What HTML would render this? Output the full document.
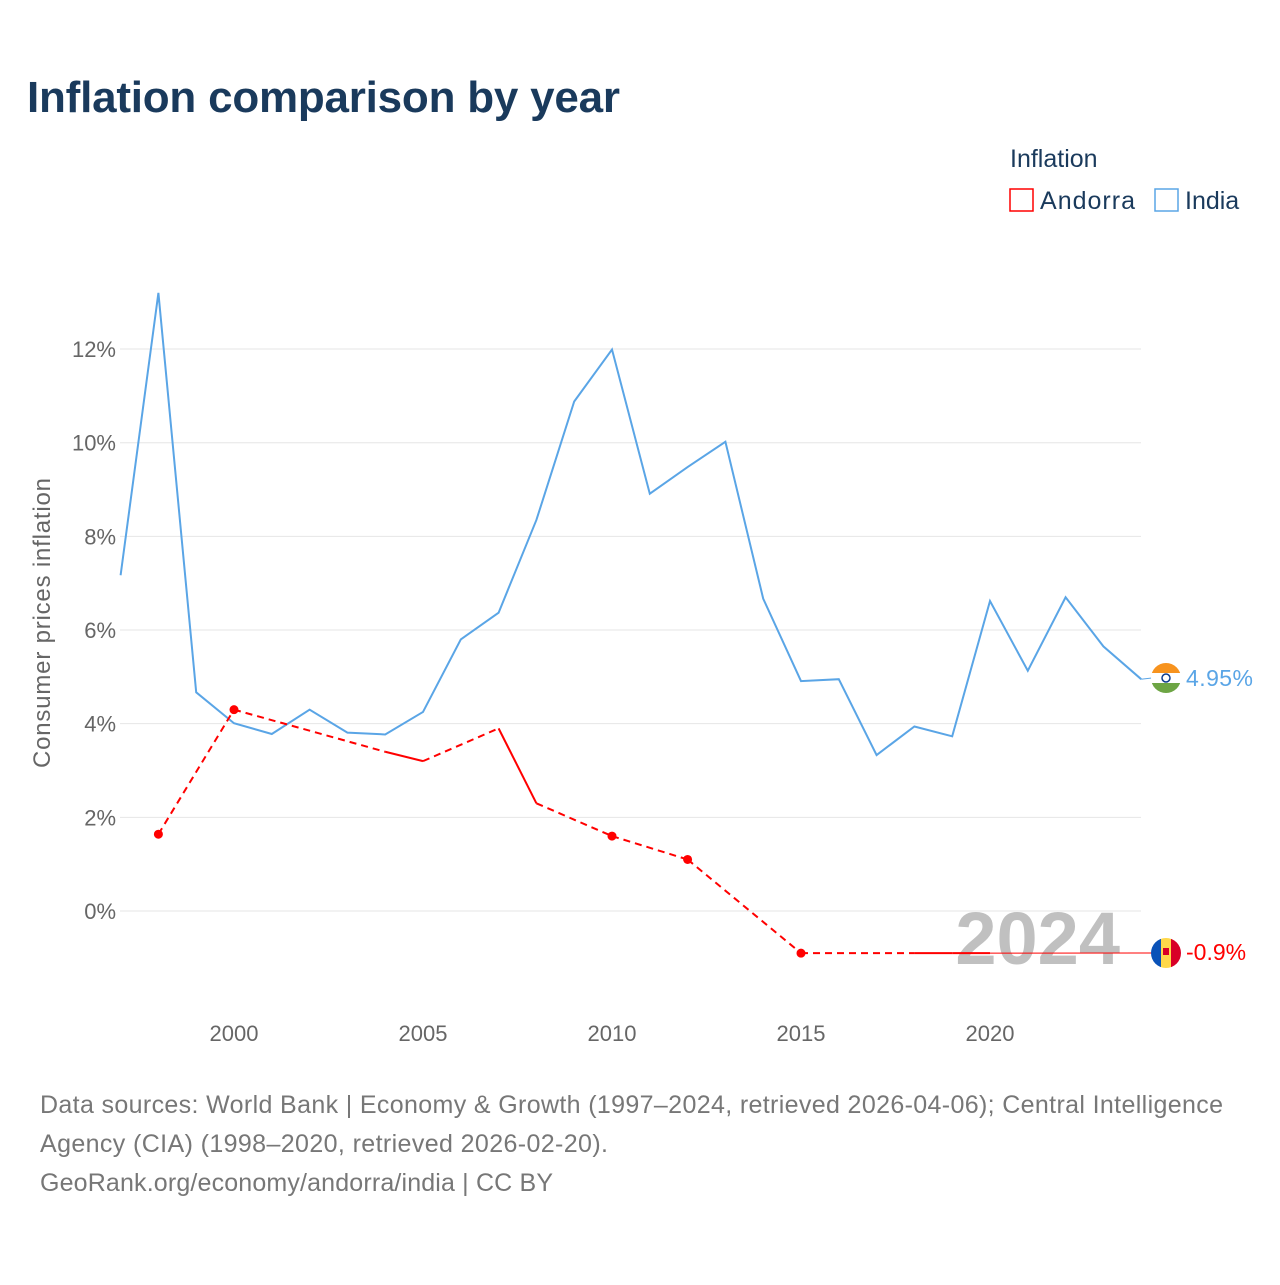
<!DOCTYPE html>
<html><head><meta charset="utf-8"><style>
body{margin:0;background:#fff;font-family:"Liberation Sans",sans-serif}
svg text{font-family:"Liberation Sans",sans-serif}
</style></head><body>
<svg id="c" width="1280" height="1280" xmlns="http://www.w3.org/2000/svg">
<text x="27" y="112" font-size="44" font-weight="bold" fill="#1a3a5c" textLength="593">Inflation comparison by year</text>
<text x="1010" y="167" font-size="25" fill="#1a3a5c">Inflation</text>
<g><rect x="1010" y="189" width="23" height="22" fill="none" stroke="#f00" stroke-width="1.5"/><text x="1040" y="209" font-size="25" fill="#1a3a5c" textLength="95">Andorra</text></g>
<g><rect x="1155" y="189" width="23" height="22" fill="none" stroke="#5aa5e6" stroke-width="1.5"/><text x="1185" y="209" font-size="25" fill="#1a3a5c">India</text></g>
<text transform="translate(50,623) rotate(-90)" text-anchor="middle" font-size="24" fill="#666" textLength="290">Consumer prices inflation</text>
<g id="grid"></g><g id="xt"></g>
<text x="1120" y="964" text-anchor="end" font-size="74" font-weight="bold" fill="#c0c0c0">2024</text>
<g id="series"></g>
<g><clipPath id="ci"><circle cx="1166" cy="678" r="15"/></clipPath><g clip-path="url(#ci)"><rect x="1150" y="663" width="32" height="10" fill="#f7931e"/><rect x="1150" y="673" width="32" height="10" fill="#fff"/><rect x="1150" y="683" width="32" height="10" fill="#6da544"/><circle cx="1166" cy="678" r="4" fill="none" stroke="#0a3a8c" stroke-width="1.5"/></g></g>
<g><clipPath id="ca"><circle cx="1166" cy="953" r="15"/></clipPath><g clip-path="url(#ca)"><rect x="1150" y="938" width="11" height="32" fill="#0a52b8"/><rect x="1161" y="938" width="10" height="32" fill="#ffd84a"/><rect x="1171" y="938" width="12" height="32" fill="#d80027"/><rect x="1163" y="948" width="6" height="7" fill="#d80027"/></g></g>
<text x="1186" y="686" font-size="23" fill="#5aa5e6" textLength="67">4.95%</text>
<text x="1186" y="960" font-size="23" fill="#f00">-0.9%</text>
<text font-size="25" fill="#777"><tspan x="40" y="1113" textLength="1183">Data sources: World Bank | Economy &amp; Growth (1997–2024, retrieved 2026-04-06); Central Intelligence</tspan><tspan x="40" y="1152" textLength="568">Agency (CIA) (1998–2020, retrieved 2026-02-20).</tspan><tspan x="40" y="1191" textLength="513">GeoRank.org/economy/andorra/india | CC BY</tspan></text>
</svg>
<script>
const yTicks=[0,2,4,6,8,10,12];
const xTicks=[2000,2005,2010,2015,2020];
const indiaYears=[1997,1998,1999,2000,2001,2002,2003,2004,2005,2006,2007,2008,2009,2010,2011,2012,2013,2014,2015,2016,2017,2018,2019,2020,2021,2022,2023,2024];
const indiaVals=[7.17,13.2,4.67,4.01,3.78,4.30,3.81,3.77,4.25,5.80,6.37,8.35,10.88,11.99,8.91,9.48,10.02,6.67,4.91,4.95,3.33,3.94,3.73,6.62,5.13,6.70,5.65,4.95];
const andorraYears=[1998,2000,2004,2005,2007,2008,2010,2012,2015,2018,2019,2020];
const andorraVals=[1.64,4.3,3.4,3.2,3.9,2.3,1.6,1.1,-0.9,-0.9,-0.9,-0.9];
const X=y=>234+(y-2000)*37.8, Y=v=>911-v*46.83;
const NS="http://www.w3.org/2000/svg";
function mk(t,a,p){const e=document.createElementNS(NS,t);for(const k in a)e.setAttribute(k,a[k]);p.appendChild(e);return e;}
const g=document.getElementById('grid');
yTicks.forEach(v=>{const l=mk('line',{x1:120,x2:1141,y1:Y(v),y2:Y(v),stroke:'#e6e6e6'},g);


const t=mk('text',{x:116,y:Y(v)+8,'text-anchor':'end','font-size':22,fill:'#666'},g);t.textContent=v+'%';

});
const xt=document.getElementById('xt');
xTicks.forEach(v=>{const t=mk('text',{x:X(v),y:1041,'text-anchor':'middle','font-size':22,fill:'#666'},xt);t.textContent=v;

});
const s=document.getElementById('series');
const ip=indiaYears.map((y,i)=>X(y)+','+Y(indiaVals[i])).join(' ');
const il=mk('polyline',{points:ip,fill:'none',stroke:'#5aa5e6','stroke-width':2},s);


const li=indiaYears.length-1;
const ild=mk('line',{x1:X(indiaYears[li]),y1:Y(indiaVals[li]),x2:1152,y2:678,stroke:'#5aa5e6','stroke-width':1},s);


for(let i=0;i<andorraYears.length-1;i++){
 const gap=andorraYears[i+1]-andorraYears[i]>1;
 const l=mk('line',{x1:X(andorraYears[i]),y1:Y(andorraVals[i]),x2:X(andorraYears[i+1]),y2:Y(andorraVals[i+1]),stroke:'#f00','stroke-width':2},s);
 if(gap)l.setAttribute('stroke-dasharray','7,5');
 
 
}
andorraYears.forEach((y,i)=>{
 const prev=i>0&&y-andorraYears[i-1]===1, next=i<andorraYears.length-1&&andorraYears[i+1]-y===1;
 if(!prev&&!next){const c=mk('circle',{cx:X(y),cy:Y(andorraVals[i]),r:4.5,fill:'#f00'},s);
 
 }
});
const la=andorraYears.length-1;
const ald=mk('line',{x1:X(andorraYears[la]),y1:Y(andorraVals[la]),x2:1152,y2:953,stroke:'#f00','stroke-width':1},s);


</script>
</body></html>
